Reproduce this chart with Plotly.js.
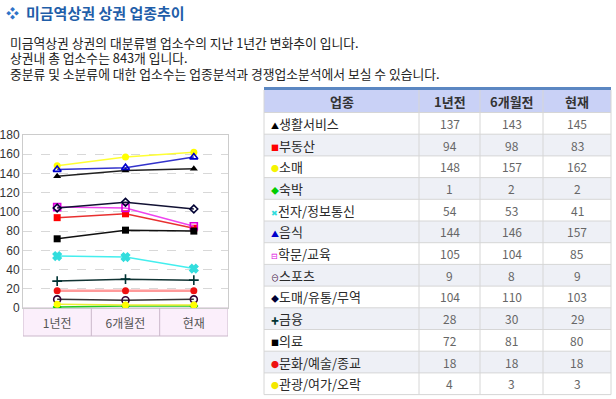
<!DOCTYPE html>
<html><head><meta charset="utf-8">
<script src="https://cdn.plot.ly/plotly-3.0.1.min.js"></script>
<style>html,body{margin:0;padding:0;background:#fff}#chart{width:616px;height:399px}</style>
</head><body><div id="chart"></div>
<script>
const categories = ['1년전', '6개월전', '현재'];
const names = ['생활서비스','부동산','소매','숙박','전자/정보통신','음식','학문/교육','스포츠','도매/유통/무역','금융','의료','문화/예술/종교','관광/여가/오락'];
const lifeService = [137, 143, 145];
const realEstate  = [94, 98, 83];
const retail      = [148, 157, 162];
const lodging     = [1, 2, 2];
const electronics = [54, 53, 41];
const food        = [144, 146, 157];
const education   = [105, 104, 85];
const sports      = [9, 8, 9];
const wholesale   = [104, 110, 103];
const finance     = [28, 30, 29];
const medical     = [72, 81, 80];
const culture     = [18, 18, 18];
const tourism     = [4, 3, 3];
const series = [lifeService, realEstate, retail, lodging, electronics, food, education, sports, wholesale, finance, medical, culture, tourism];
const headers = ['업종', '1년전', '6개월전', '현재'];
const introLines = ['미금역상권 상권의 대분류별 업소수의 지난 1년간 변화추이 입니다.', '상권내 총 업소수는 843개 입니다.', '중분류 및 소분류에 대한 업소수는 업종분석과 경쟁업소분석에서 보실 수 있습니다.'];

const W = 616, H = 399;
const px = x => x / W, py = y => 1 - y / H;

const styles = [
  {line:'#222222', mc:'#000000', sym:'triangle-up', icon:'▲', ic:'#000'},
  {line:'#e83030', mc:'#ff0000', sym:'square', icon:'■', ic:'#ff0000'},
  {line:'#ffff33', mc:'#ffff00', sym:'circle', icon:'●', ic:'#f4f400'},
  {line:'#22cc22', mc:'#00cc00', sym:'diamond', icon:'◆', ic:'#00cc00'},
  {line:'#44eeee', mc:'#33dddd', sym:'x', icon:'✖', ic:'#33dddd'},
  {line:'#3333cc', mc:'#0000cc', sym:'triangle-up-open', icon:'▲', ic:'#0000cc'},
  {line:'#ee44ee', mc:'#dd00dd', sym:'square-open', icon:'⊟', ic:'#dd00dd'},
  {line:'#333333', mc:'#330033', sym:'circle-open', icon:'⊖', ic:'#330033'},
  {line:'#111133', mc:'#000033', sym:'diamond-open', icon:'◆', ic:'#000033'},
  {line:'#113333', mc:'#003333', sym:'cross-thin-open', icon:'✚', ic:'#003333'},
  {line:'#111111', mc:'#000000', sym:'square', icon:'■', ic:'#000000'},
  {line:'#ff9a9a', mc:'#ee1111', sym:'circle', icon:'●', ic:'#ee1111'},
  {line:'#eeee33', mc:'#ffff00', sym:'circle', icon:'●', ic:'#f4e800'}
];

const traces = series.map((vals, i) => ({
  type: 'scatter', mode: 'lines+markers', x: categories, y: vals, name: names[i],
  line: {color: styles[i].line, width: (i === 11 ? 2.5 : 1.5)},
  marker: {symbol: styles[i].sym, color: styles[i].mc, size: (styles[i].sym === 'diamond-open' ? 6 : 7),
           line: {color: styles[i].mc, width: styles[i].sym.indexOf('open') >= 0 || styles[i].sym === 'x' ? 1.6 : 0}},
  hoverinfo: 'skip', showlegend: false
}));

const shapes = [
  {type: 'rect', xref: 'x', yref: 'paper', x0: -0.5, x1: 2.5, y0: py(336), y1: py(308),
   fillcolor: '#fbeffb', line: {color: '#cbb8cb', width: 1}, layer: 'below'},
  {type: 'line', xref: 'x', yref: 'paper', x0: 0.5, x1: 0.5, y0: py(336), y1: py(308), line: {color: '#cbb8cb', width: 1}},
  {type: 'line', xref: 'x', yref: 'paper', x0: 1.5, x1: 1.5, y0: py(336), y1: py(308), line: {color: '#cbb8cb', width: 1}}
];
const annotations = [
  {text: '❖', x: px(4), y: py(12), xanchor: 'left', font: {size: 13, color: '#2f73c8'}},
  {text: '<b>미금역상권 상권 업종추이</b>', x: px(24), y: py(12), xanchor: 'left',
   font: {family: 'Noto Sans CJK KR', size: 15, color: '#1f5ea9'}},
  {text: introLines.map(t => '<span style="font-size:12.8px">' + t + '</span>').join('<br>'), x: px(8), y: py(58.5), xanchor: 'left', align: 'left',
   font: {family: 'Noto Sans CJK KR', size: 11.9, color: '#222'}}
];

// table built from shapes + annotations
const colX = [264, 419, 480, 543, 611];
const headTop = 90, headBot = 112.5, rowH = 21.7;
const lineC = '#d6d6d6';
shapes.push({type: 'rect', xref: 'paper', yref: 'paper', x0: px(colX[0]), x1: px(colX[4]), y0: py(headBot), y1: py(headTop),
  fillcolor: '#c9d1f6', line: {width: 0}, layer: 'below'});
names.forEach((n, i) => {
  const top = headBot + i * rowH, bot = top + rowH;
  shapes.push({type: 'rect', xref: 'paper', yref: 'paper', x0: px(colX[0]), x1: px(colX[4]), y0: py(bot), y1: py(top),
    fillcolor: i % 2 === 0 ? '#ffffff' : '#eef0f6', line: {width: 0}, layer: 'below'});
  shapes.push({type: 'line', xref: 'paper', yref: 'paper', x0: px(colX[0]), x1: px(colX[4]), y0: py(bot), y1: py(bot),
    line: {color: lineC, width: 1}});
  const cy = py((top + bot) / 2);
  annotations.push({text: '<span style="color:' + styles[i].ic + ';font-size:8px">' + styles[i].icon + '</span>' + n,
    x: px(colX[0] + 5), y: cy, xanchor: 'left',
    font: {family: 'Noto Sans CJK KR', size: 13, color: '#2a2a2a'}});
  series[i].forEach((v, k) => {
    annotations.push({text: String(v), x: px((colX[k + 1] + colX[k + 2]) / 2), y: cy, xanchor: 'center',
      font: {family: 'Noto Sans CJK KR', size: 12, color: '#666666'}});
  });
});
const tableBot = headBot + names.length * rowH;
shapes.push({type: 'line', xref: 'paper', yref: 'paper', x0: px(colX[0]), x1: px(colX[4]), y0: py(headBot), y1: py(headBot),
  line: {color: lineC, width: 1}});
colX.forEach(x => shapes.push({type: 'line', xref: 'paper', yref: 'paper', x0: px(x), x1: px(x), y0: py(tableBot), y1: py(headTop),
  line: {color: lineC, width: 1}}));
headers.forEach((h, k) => annotations.push({text: '<b>' + h + '</b>', x: px((colX[k] + colX[k + 1]) / 2), y: py((headTop + headBot) / 2),
  xanchor: 'center', font: {family: 'Noto Sans CJK KR', size: 13, color: '#333333'}}));
shapes.push({type: 'rect', xref: 'paper', yref: 'paper', x0: px(colX[0]), x1: px(colX[4]), y0: py(90), y1: py(87),
  fillcolor: '#5b87c2', line: {width: 0}});

annotations.forEach(a => { a.xref = 'paper'; a.yref = 'paper'; a.yanchor = 'middle'; a.showarrow = false; });

const layout = {
  width: W, height: H,
  margin: {l: 0, r: 0, t: 0, b: 0},
  paper_bgcolor: '#ffffff', plot_bgcolor: '#ffffff',
  font: {family: 'Noto Sans CJK KR', size: 12, color: '#333'},
  xaxis: {
    domain: [px(23), px(228)], type: 'category', range: [-0.5, 2.5],
    showgrid: false, zeroline: false, showline: true, linecolor: '#cccccc', mirror: true,
    ticks: '', ticklabelstandoff: 5,
    tickfont: {family: 'Noto Sans CJK KR', size: 12, color: '#555555'}, fixedrange: true
  },
  yaxis: {
    domain: [py(308), py(135)], range: [0, 180], dtick: 20,
    showgrid: true, gridcolor: '#d8d8d8', griddash: 'dash', zeroline: false,
    showline: true, linecolor: '#cccccc', mirror: true, ticks: '',
    tickfont: {family: 'Liberation Sans', size: 12, color: '#333333'}, fixedrange: true
  },
  shapes: shapes,
  annotations: annotations
};

Plotly.newPlot('chart', traces, layout, {displayModeBar: false, staticPlot: true});
</script></body></html>
